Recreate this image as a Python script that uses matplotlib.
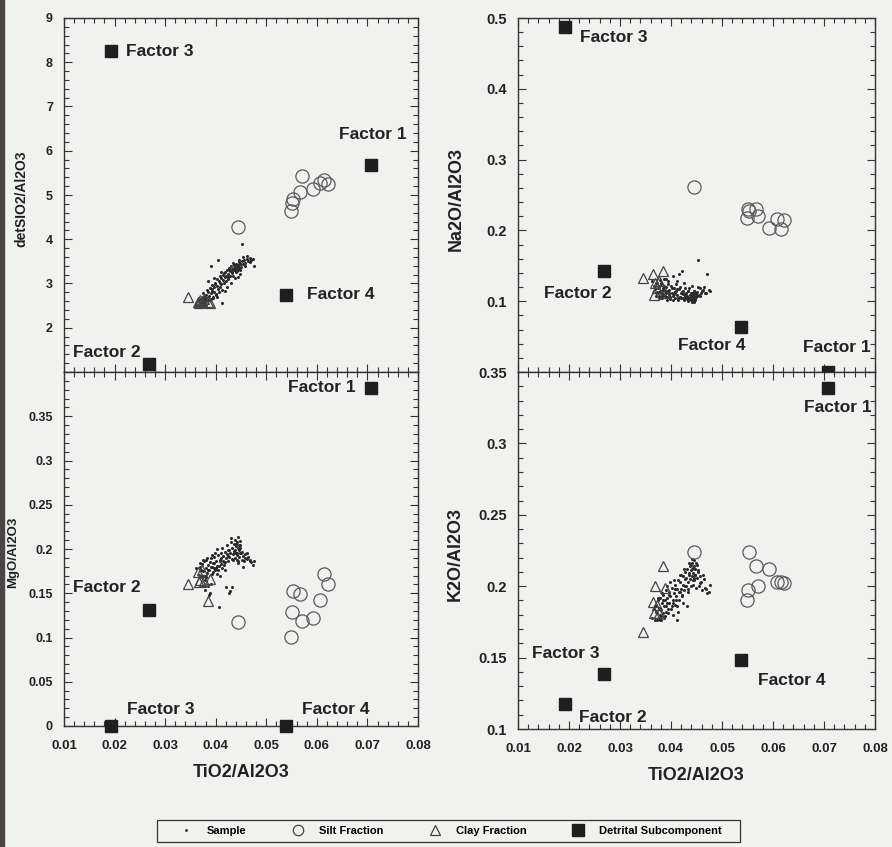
import matplotlib.pyplot as plt
from matplotlib.lines import Line2D
from matplotlib.patches import Rectangle
from matplotlib.ticker import MultipleLocator, FixedLocator, FuncFormatter

plt.rcParams['font.family'] = ['Liberation Sans', 'DejaVu Sans']
plt.rcParams['font.weight'] = 'bold'

# detrital subcomponents (factor end-members)
factor_names = ['Factor 1', 'Factor 2', 'Factor 3', 'Factor 4']
factor_ti = [0.0707, 0.0268, 0.0192, 0.0538]
factor_si = [5.68, 1.18, 8.25, 2.73]
factor_na = [0.0, 0.142, 0.487, 0.0635]
factor_mg = [0.382, 0.131, 0.0, 0.0]
factor_k = [0.339, 0.1386, 0.1175, 0.148]

# silt fraction
silt_ti = [0.0445, 0.0549, 0.0550, 0.0552, 0.0567, 0.0570, 0.0593, 0.0607, 0.0615, 0.0622]
silt_si = [4.28, 4.64, 4.81, 4.92, 5.07, 5.42, 5.13, 5.28, 5.34, 5.24]
silt_na = [0.261, 0.217, 0.2296, 0.228, 0.2296, 0.221, 0.203, 0.2155, 0.2025, 0.214]
silt_mg = [0.117, 0.101, 0.129, 0.152, 0.149, 0.119, 0.1215, 0.142, 0.172, 0.161]
silt_k = [0.224, 0.190, 0.1975, 0.224, 0.214, 0.200, 0.212, 0.203, 0.203, 0.202]

# clay fraction
clay_ti = [0.0345, 0.0364, 0.0366, 0.0369, 0.0372, 0.0376, 0.0384, 0.0389]
clay_si = [2.70, 2.58, 2.55, 2.62, 2.60, 2.64, 2.58, 2.57]
clay_na = [0.133, 0.138, 0.109, 0.125, 0.118, 0.128, 0.142, 0.112]
clay_mg = [0.161, 0.174, 0.163, 0.165, 0.176, 0.164, 0.141, 0.166]
clay_k = [0.168, 0.189, 0.181, 0.200, 0.187, 0.181, 0.214, 0.199]

# bulk samples
sample_ti = [0.0362, 0.0366, 0.0369, 0.0371, 0.0373, 0.0374, 0.0376, 0.0377, 0.0378, 0.0380,
             0.0381, 0.0382, 0.0384, 0.0385, 0.0386, 0.0388, 0.0389, 0.0390, 0.0391, 0.0393,
             0.0394, 0.0396, 0.0397, 0.0399, 0.0400, 0.0402, 0.0404, 0.0405, 0.0407, 0.0408,
             0.0410, 0.0411, 0.0412, 0.0414, 0.0415, 0.0416, 0.0418, 0.0419, 0.0420, 0.0421,
             0.0423, 0.0424, 0.0425, 0.0427, 0.0428, 0.0429, 0.0430, 0.0432, 0.0433, 0.0434,
             0.0436, 0.0437, 0.0438, 0.0440, 0.0441, 0.0442, 0.0443, 0.0444, 0.0445, 0.0446,
             0.0447, 0.0448, 0.0450, 0.0451, 0.0452, 0.0454, 0.0456, 0.0458, 0.0461, 0.0464,
             0.0467, 0.0470, 0.0474,
             0.0368, 0.0372, 0.0375, 0.0379, 0.0383, 0.0387, 0.0392, 0.0395, 0.0398, 0.0401,
             0.0403, 0.0406, 0.0409, 0.0413, 0.0417, 0.0422, 0.0426, 0.0431, 0.0435, 0.0439,
             0.0442, 0.0444, 0.0446, 0.0449, 0.0453, 0.0457, 0.0462, 0.0468, 0.0378, 0.0384,
             0.0390, 0.0396, 0.0403, 0.0411, 0.0418, 0.0427, 0.0436, 0.0441, 0.0445, 0.0449,
             0.0371, 0.0381, 0.0393, 0.0408, 0.0424, 0.0433, 0.0439, 0.0443, 0.0448, 0.0476]
sample_si = [2.52, 2.60, 2.58, 2.66, 2.55, 2.62, 2.70, 2.57, 2.64, 2.75,
             2.60, 2.68, 2.80, 2.66, 2.72, 2.90, 2.62, 2.78, 3.39, 2.84,
             2.70, 2.92, 2.81, 2.98, 2.76, 2.95, 3.52, 2.88, 3.05, 2.93,
             3.12, 2.99, 2.55, 3.08, 3.20, 3.02, 3.15, 3.26, 3.06, 3.18,
             3.30, 3.10, 3.22, 3.35, 3.16, 3.28, 3.40, 3.24, 3.33, 3.18,
             3.42, 3.30, 3.37, 3.25, 3.45, 3.34, 3.28, 3.40, 3.32, 3.48,
             3.36, 3.43, 3.38, 3.50, 3.89, 3.44, 3.52, 3.47, 3.55, 3.50,
             3.58, 3.53, 3.56,
             2.66, 2.52, 2.78, 2.58, 2.86, 2.62, 2.97, 2.68, 3.02, 2.74,
             3.10, 2.80, 3.16, 2.86, 3.24, 2.92, 3.32, 3.02, 3.46, 3.12,
             3.38, 3.15, 3.52, 3.30, 3.60, 3.40, 3.62, 3.48, 2.50, 3.05,
             2.65, 3.12, 2.70, 3.25, 2.82, 3.18, 3.36, 3.28, 3.42, 3.22,
             2.62, 2.64, 2.88, 3.00, 3.14, 3.26, 3.30, 3.36, 3.44, 3.40]
sample_na = [0.128, 0.121, 0.117, 0.125, 0.113, 0.119, 0.108, 0.122, 0.115, 0.111,
             0.126, 0.104, 0.118, 0.110, 0.131, 0.107, 0.115, 0.120, 0.112, 0.106,
             0.124, 0.109, 0.116, 0.103, 0.121, 0.111, 0.107, 0.118, 0.113, 0.105,
             0.115, 0.128, 0.109, 0.101, 0.117, 0.139, 0.106, 0.112, 0.104, 0.142,
             0.110, 0.115, 0.102, 0.108, 0.119, 0.104, 0.111, 0.107, 0.100, 0.114,
             0.105, 0.109, 0.103, 0.112, 0.106, 0.099, 0.110, 0.104, 0.108, 0.115,
             0.102, 0.112, 0.107, 0.113, 0.158, 0.109, 0.118, 0.112, 0.114, 0.120,
             0.111, 0.139, 0.116,
             0.118, 0.126, 0.112, 0.130, 0.108, 0.122, 0.114, 0.128, 0.106, 0.119,
             0.135, 0.110, 0.124, 0.104, 0.120, 0.113, 0.126, 0.103, 0.118, 0.108,
             0.122, 0.101, 0.114, 0.106, 0.120, 0.108, 0.116, 0.112, 0.105, 0.116,
             0.132, 0.112, 0.102, 0.117, 0.106, 0.110, 0.104, 0.112, 0.099, 0.110,
             0.108, 0.124, 0.101, 0.113, 0.105, 0.115, 0.102, 0.107, 0.103, 0.114]
sample_mg = [0.178, 0.171, 0.180, 0.168, 0.183, 0.175, 0.186, 0.170, 0.154, 0.179,
             0.188, 0.173, 0.158, 0.182, 0.176, 0.185, 0.150, 0.180, 0.190, 0.172,
             0.184, 0.178, 0.191, 0.176, 0.186, 0.181, 0.193, 0.176, 0.134, 0.188,
             0.183, 0.195, 0.179, 0.187, 0.192, 0.182, 0.197, 0.185, 0.190, 0.157,
             0.194, 0.186, 0.199, 0.191, 0.153, 0.196, 0.212, 0.189, 0.201, 0.194,
             0.206, 0.198, 0.190, 0.203, 0.196, 0.208, 0.193, 0.201, 0.187, 0.199,
             0.191, 0.204, 0.195, 0.188, 0.197, 0.192, 0.186, 0.194, 0.189, 0.191,
             0.187, 0.185, 0.182,
             0.184, 0.170, 0.188, 0.165, 0.190, 0.148, 0.193, 0.174, 0.196, 0.178,
             0.200, 0.181, 0.170, 0.201, 0.185, 0.204, 0.150, 0.208, 0.188, 0.210,
             0.195, 0.184, 0.205, 0.196, 0.180, 0.190, 0.196, 0.188, 0.158, 0.176,
             0.160, 0.184, 0.172, 0.190, 0.176, 0.199, 0.196, 0.206, 0.213, 0.209,
             0.176, 0.168, 0.180, 0.186, 0.192, 0.157, 0.199, 0.188, 0.201, 0.187]
sample_k = [0.178, 0.184, 0.176, 0.186, 0.181, 0.190, 0.178, 0.185, 0.192, 0.183,
            0.176, 0.188, 0.181, 0.194, 0.186, 0.179, 0.190, 0.197, 0.186, 0.192,
            0.181, 0.196, 0.188, 0.193, 0.184, 0.199, 0.190, 0.195, 0.187, 0.201,
            0.193, 0.198, 0.186, 0.204, 0.196, 0.190, 0.203, 0.198, 0.208, 0.194,
            0.201, 0.207, 0.197, 0.205, 0.210, 0.200, 0.206, 0.212, 0.203, 0.198,
            0.209, 0.214, 0.205, 0.211, 0.216, 0.207, 0.213, 0.209, 0.218, 0.204,
            0.212, 0.208, 0.215, 0.206, 0.211, 0.200, 0.207, 0.203, 0.197, 0.205,
            0.199, 0.195, 0.196,
            0.186, 0.176, 0.192, 0.180, 0.195, 0.178, 0.200, 0.184, 0.203, 0.186,
            0.180, 0.204, 0.190, 0.182, 0.208, 0.193, 0.212, 0.186, 0.216, 0.200,
            0.219, 0.204, 0.214, 0.199, 0.210, 0.202, 0.208, 0.198, 0.176, 0.190,
            0.182, 0.194, 0.188, 0.176, 0.196, 0.200, 0.208, 0.212, 0.206, 0.216,
            0.182, 0.179, 0.188, 0.198, 0.188, 0.196, 0.215, 0.201, 0.208, 0.201]

bg = '#f1f1ef'
ink = '#222222'

fig = plt.figure(figsize=(8.92, 8.47), dpi=100, facecolor=bg)
fig.patches.append(Rectangle((0, 0), 4 / 892, 1, transform=fig.transFigure,
                             color='#4a4442', zorder=0))

ax_tl = fig.add_axes([64 / 892, 1 - 372 / 847, 354 / 892, 354 / 847])
ax_bl = fig.add_axes([64 / 892, 1 - 726 / 847, 354 / 892, 354 / 847])
ax_tr = fig.add_axes([518 / 892, 1 - 372 / 847, 357 / 892, 354 / 847])
ax_br = fig.add_axes([518 / 892, 1 - 729 / 847, 357 / 892, 357 / 847])

panels = [
    # axes, factor y, silt y, clay y, sample y, ylim, majors, minor step, hidden tick,
    # ylabel, ylabel size, ylabel x, tick label size, factor label positions
    (ax_tl, factor_si, silt_si, clay_si, sample_si, (1, 9), range(1, 10), 0.2, 1,
     'detSIO2/Al2O3', 10, -0.102, 9,
     [(0.0644, 6.36), (0.0118, 1.45), (0.0223, 8.25), (0.0580, 2.75)]),
    (ax_tr, factor_na, silt_na, clay_na, sample_na, (0, 0.5),
     [0, 0.1, 0.2, 0.3, 0.4, 0.5], 0.02, 0,
     'Na2O/Al2O3', 13, -0.148, 10.5,
     [(0.0659, 0.034), (0.0151, 0.111), (0.0222, 0.472), (0.0414, 0.038)]),
    (ax_bl, factor_mg, silt_mg, clay_mg, sample_mg, (0, 0.4),
     [0, 0.05, 0.1, 0.15, 0.2, 0.25, 0.3, 0.35, 0.4], 0.01, 0.4,
     'MgO/Al2O3', 9.5, -0.128, 9,
     [(0.0543, 0.383), (0.0118, 0.156), (0.0225, 0.019), (0.0571, 0.019)]),
    (ax_br, factor_k, silt_k, clay_k, sample_k, (0.1, 0.35),
     [0.1, 0.15, 0.2, 0.25, 0.3, 0.35], 0.01, None,
     'K2O/Al2O3', 13, -0.152, 10.5,
     [(0.0660, 0.325), (0.0220, 0.108), (0.0127, 0.153), (0.0571, 0.134)]),
]

for (ax, fy, sy, cy, py, ylim, majors, minor, hidden,
     ylabel, ylsize, ylx, ticksize, label_pos) in panels:
    ax.set_facecolor(bg)
    ax.plot(sample_ti, py, ls='none', marker='o', ms=2.2, mew=0, color='#2a2a2a')
    ax.plot(clay_ti, cy, ls='none', marker='^', ms=7.5, mfc='none', mec='#444444', mew=0.9)
    ax.plot(silt_ti, sy, ls='none', marker='o', ms=9.5, mfc='none', mec='#5a5a5a', mew=0.9)
    ax.plot(factor_ti, fy, ls='none', marker='s', ms=8.5, color='#1e1e1e',
            clip_on=False, zorder=5)
    for name, (tx, ty) in zip(factor_names, label_pos):
        ax.text(tx, ty, name, ha='left', va='center', fontsize=12.5,
                fontweight='bold', color=ink)

    ax.set_xlim(0.01, 0.08)
    ax.set_ylim(*ylim)
    ax.xaxis.set_major_locator(MultipleLocator(0.01))
    ax.xaxis.set_minor_locator(MultipleLocator(0.002))
    ax.yaxis.set_major_locator(FixedLocator(list(majors)))
    ax.yaxis.set_minor_locator(MultipleLocator(minor))
    ax.yaxis.set_major_formatter(FuncFormatter(
        lambda v, p, h=hidden: '' if h is not None and abs(v - h) < 1e-9 else f'{v:g}'))
    ax.xaxis.set_major_formatter(FuncFormatter(lambda v, p: f'{v:g}'))

    ax.tick_params(which='both', direction='in', top=True, right=True,
                   width=0.8, color='#333333')
    ax.tick_params(which='major', length=6)
    ax.tick_params(which='minor', length=3.5)
    ax.tick_params(axis='y', labelsize=ticksize, pad=8, labelcolor=ink)
    ax.tick_params(axis='x', labelsize=9.5, pad=10, labelcolor=ink)
    for s in ax.spines.values():
        s.set_linewidth(1.0)
        s.set_color('#333333')

    ax.set_ylabel(ylabel, fontsize=ylsize, fontweight='bold', color=ink)
    ax.yaxis.set_label_coords(ylx, 0.49)

for ax in (ax_tl, ax_tr):
    ax.tick_params(axis='x', labelbottom=False)
for ax in (ax_bl, ax_br):
    ax.set_xlabel('TiO2/Al2O3', fontsize=13, fontweight='bold', color=ink, labelpad=9)

# legend strip under the panels
fig.patches.append(Rectangle((157 / 892, 1 - 842 / 847), 583 / 892, 22 / 847,
                             transform=fig.transFigure, fill=False,
                             edgecolor='#333333', linewidth=0.9))
handles = [
    Line2D([], [], ls='none', marker='o', ms=2, mew=0, color='#2a2a2a'),
    Line2D([], [], ls='none', marker='o', ms=7.5, mfc='none', mec='#444444', mew=0.9),
    Line2D([], [], ls='none', marker='^', ms=7, mfc='none', mec='#444444', mew=0.9),
    Line2D([], [], ls='none', marker='s', ms=8, color='#1e1e1e'),
]
fig.legend(handles, ['Sample', 'Silt Fraction', 'Clay Fraction', 'Detrital Subcomponent'],
           loc='center', bbox_to_anchor=(451 / 892, 1 - 831 / 847), ncol=4,
           frameon=False, handlelength=1.0, handletextpad=1.4,
           columnspacing=4.1, prop={'weight': 'bold', 'size': 8})

fig.savefig('out.png', dpi=100, facecolor=bg)
